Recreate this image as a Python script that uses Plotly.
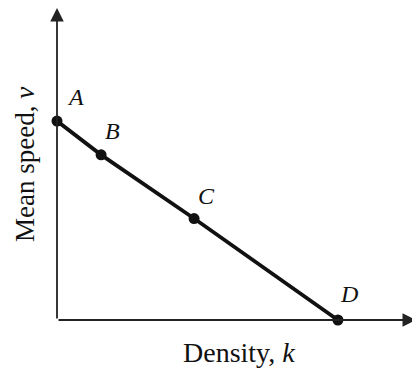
import plotly.graph_objects as go

# Data
labels = ["A", "B", "C", "D"]
density_k = [0.0, 0.157, 0.488, 1.0]
speed_v = [1.0, 0.83, 0.51, 0.0]
x_title = "Density, <i>k</i>"
y_title = "Mean speed, <i>v</i>"

XMAX = 1.278
YMAX = 1.568
SERIF = "Liberation Serif, Times New Roman, serif"

fig = go.Figure()
fig.add_trace(go.Scatter(
    x=density_k, y=speed_v, mode="lines+markers",
    line=dict(color="#111111", width=3.8),
    marker=dict(color="#111111", size=11),
    cliponaxis=False, hoverinfo="skip", showlegend=False,
))

# axes as arrows
fig.add_annotation(x=XMAX, y=0, ax=0, ay=0, xref="x", yref="y", axref="x", ayref="y",
                   showarrow=True, arrowhead=2, arrowsize=1.5, arrowwidth=1.8, arrowcolor="#222222", text="")
fig.add_annotation(x=0, y=YMAX, ax=0, ay=0, xref="x", yref="y", axref="x", ayref="y",
                   showarrow=True, arrowhead=2, arrowsize=1.5, arrowwidth=1.8, arrowcolor="#222222", text="")

# point labels
shifts = [(18, 24), (11, 24), (12, 23), (11, 26)]
for lab, xk, yv, (dx, dy) in zip(labels, density_k, speed_v, shifts):
    fig.add_annotation(x=xk, y=yv, xref="x", yref="y", text=f"<i>{lab}</i>", showarrow=False,
                       xshift=dx, yshift=dy, font=dict(family=SERIF, size=24, color="#111111"))

# axis titles
fig.add_annotation(x=0.507, y=0, xref="paper", yref="paper", text=x_title, showarrow=False,
                   yshift=-32, yanchor="middle", xanchor="center",
                   font=dict(family=SERIF, size=28, color="#111111"))
fig.add_annotation(x=0, y=0.497, xref="paper", yref="paper", text=y_title, showarrow=False,
                   xshift=-32, xanchor="center", yanchor="middle", textangle=-90,
                   font=dict(family=SERIF, size=27, color="#111111"))

fig.update_xaxes(range=[0, XMAX], visible=False, fixedrange=True)
fig.update_yaxes(range=[0, YMAX], visible=False, fixedrange=True)
fig.update_layout(width=412, height=366, margin=dict(l=49, r=4, t=0, b=54),
                  paper_bgcolor="white", plot_bgcolor="white")

fig.write_html("out.html")
